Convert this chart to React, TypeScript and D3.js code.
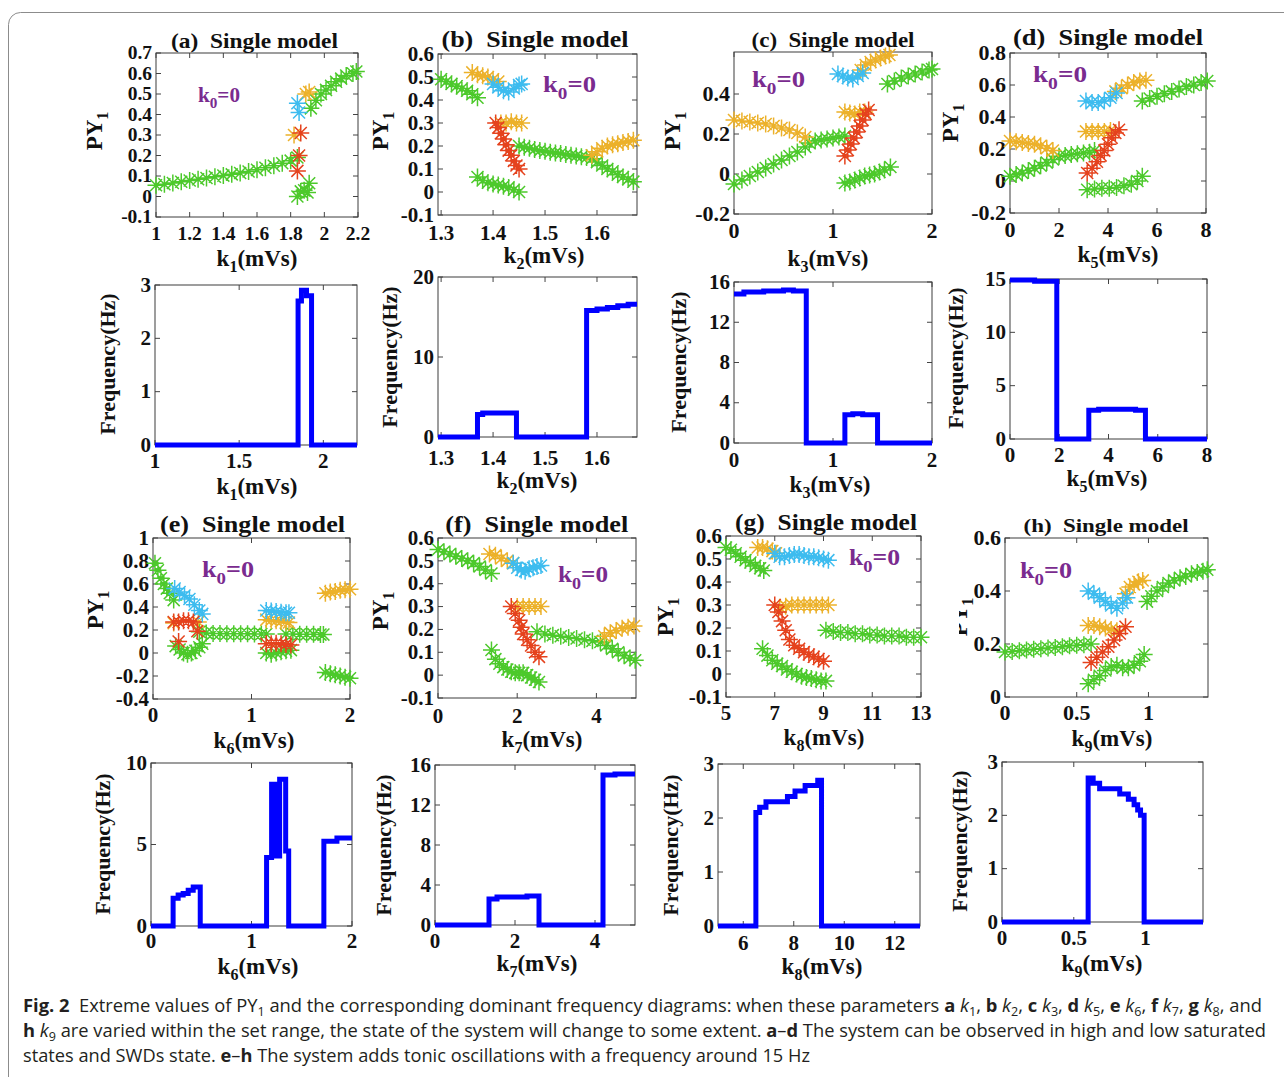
import React from "react";
import * as d3 from "d3";

// ---------- palette ----------
const COLORS: Record<string, string> = { g: "#4cc92b", o: "#ecb12a", c: "#3dbcef", r: "#e5421d" };
const LINE_BLUE = "#0000ff";
const K0_PURPLE = "#7a2b8f";
const SERIF = "'Liberation Serif','Times New Roman',serif";
const SANS = "'Open Sans','Noto Sans',sans-serif";

type Branch = { c: "g" | "o" | "c" | "r"; p: [number, number][] };

// ---------- extrema of PY1 (one marker per swept parameter value) ----------
const branchesA: Branch[] = [
  { c: "g", p: [[1.0, 0.055], [1.05, 0.06], [1.1, 0.066], [1.15, 0.072], [1.2, 0.078], [1.25, 0.084], [1.3, 0.09], [1.35, 0.096], [1.4, 0.102], [1.45, 0.108], [1.5, 0.115], [1.55, 0.122], [1.6, 0.13], [1.65, 0.14], [1.7, 0.15], [1.75, 0.162], [1.8, 0.175], [1.84, 0.19]] },
  { c: "g", p: [[1.92, 0.43], [1.95, 0.47], [1.98, 0.5], [2.01, 0.52], [2.04, 0.54], [2.07, 0.56], [2.1, 0.575], [2.13, 0.59], [2.17, 0.6], [2.19, 0.61]] },
  { c: "g", p: [[1.84, 0.0], [1.86, 0.025], [1.88, 0.03], [1.9, 0.02], [1.91, 0.065]] },
  { c: "o", p: [[1.82, 0.3], [1.89, 0.5], [1.91, 0.51]] },
  { c: "c", p: [[1.84, 0.455], [1.85, 0.41]] },
  { c: "r", p: [[1.84, 0.125], [1.85, 0.2], [1.86, 0.31]] },
];

const branchesB: Branch[] = [
  { c: "g", p: [[1.3, 0.49], [1.31, 0.48], [1.32, 0.47], [1.33, 0.46], [1.34, 0.45], [1.35, 0.44], [1.36, 0.425], [1.37, 0.41]] },
  { c: "g", p: [[1.37, 0.065], [1.38, 0.05], [1.39, 0.04], [1.4, 0.035], [1.41, 0.03], [1.42, 0.025], [1.43, 0.02], [1.44, 0.01], [1.45, 0.0]] },
  { c: "g", p: [[1.45, 0.2], [1.46, 0.195], [1.47, 0.19], [1.48, 0.185], [1.49, 0.18], [1.5, 0.177], [1.51, 0.173], [1.52, 0.17], [1.53, 0.167], [1.54, 0.163], [1.55, 0.16], [1.56, 0.157], [1.57, 0.153], [1.58, 0.15], [1.59, 0.145], [1.6, 0.13], [1.61, 0.115], [1.62, 0.1], [1.63, 0.09], [1.64, 0.075], [1.65, 0.065], [1.66, 0.055], [1.67, 0.045]] },
  { c: "o", p: [[1.36, 0.52], [1.37, 0.51], [1.38, 0.505], [1.39, 0.5], [1.4, 0.49], [1.41, 0.48]] },
  { c: "o", p: [[1.415, 0.3], [1.425, 0.3], [1.435, 0.305], [1.445, 0.3], [1.455, 0.3]] },
  { c: "o", p: [[1.59, 0.16], [1.6, 0.175], [1.61, 0.19], [1.62, 0.2], [1.63, 0.205], [1.64, 0.21], [1.65, 0.215], [1.66, 0.22], [1.67, 0.225]] },
  { c: "c", p: [[1.4, 0.47], [1.41, 0.455], [1.42, 0.44], [1.43, 0.435], [1.44, 0.45], [1.45, 0.465], [1.455, 0.47]] },
  { c: "r", p: [[1.405, 0.3], [1.41, 0.28], [1.415, 0.255], [1.42, 0.23], [1.425, 0.205], [1.43, 0.18], [1.435, 0.16], [1.44, 0.135], [1.445, 0.115], [1.45, 0.1]] },
];

const branchesC: Branch[] = [
  { c: "o", p: [[0, 0.27], [0.08, 0.265], [0.16, 0.26], [0.24, 0.255], [0.32, 0.25], [0.4, 0.24], [0.48, 0.23], [0.56, 0.22], [0.64, 0.205], [0.72, 0.185]] },
  { c: "g", p: [[0, -0.05], [0.08, -0.03], [0.16, -0.01], [0.24, 0.01], [0.32, 0.03], [0.4, 0.05], [0.48, 0.07], [0.56, 0.09], [0.64, 0.11], [0.72, 0.135], [0.76, 0.155], [0.82, 0.165], [0.88, 0.17], [0.94, 0.175], [1.0, 0.18], [1.06, 0.185], [1.12, 0.19]] },
  { c: "g", p: [[1.55, 0.45], [1.62, 0.465], [1.69, 0.48], [1.76, 0.49], [1.83, 0.5], [1.9, 0.51], [1.97, 0.52], [2.0, 0.525]] },
  { c: "g", p: [[1.12, -0.045], [1.17, -0.04], [1.22, -0.03], [1.27, -0.02], [1.32, -0.01], [1.37, -0.005], [1.42, 0.0], [1.47, 0.01], [1.52, 0.02], [1.58, 0.035]] },
  { c: "o", p: [[1.28, 0.52], [1.33, 0.545], [1.38, 0.56], [1.43, 0.57], [1.48, 0.58], [1.53, 0.59], [1.57, 0.595]] },
  { c: "o", p: [[1.12, 0.31], [1.17, 0.305], [1.22, 0.3], [1.27, 0.31], [1.32, 0.31]] },
  { c: "c", p: [[1.05, 0.5], [1.1, 0.49], [1.15, 0.48], [1.2, 0.475], [1.25, 0.49], [1.3, 0.505]] },
  { c: "r", p: [[1.12, 0.09], [1.15, 0.12], [1.18, 0.15], [1.21, 0.18], [1.24, 0.21], [1.27, 0.24], [1.3, 0.27], [1.33, 0.3], [1.36, 0.32]] },
];

const branchesD: Branch[] = [
  { c: "o", p: [[0, 0.25], [0.25, 0.245], [0.5, 0.24], [0.75, 0.235], [1.0, 0.23], [1.25, 0.22], [1.5, 0.205], [1.75, 0.19]] },
  { c: "g", p: [[0, 0.03], [0.25, 0.04], [0.5, 0.05], [0.75, 0.065], [1.0, 0.08], [1.25, 0.095], [1.5, 0.115], [1.75, 0.135], [2.0, 0.155], [2.25, 0.16], [2.5, 0.165], [2.75, 0.17], [3.0, 0.175], [3.25, 0.18], [3.45, 0.19]] },
  { c: "g", p: [[5.4, 0.5], [5.7, 0.515], [6.0, 0.53], [6.3, 0.545], [6.6, 0.56], [6.9, 0.575], [7.2, 0.59], [7.5, 0.6], [7.8, 0.615], [8.05, 0.625]] },
  { c: "g", p: [[3.15, -0.055], [3.45, -0.05], [3.75, -0.045], [4.05, -0.045], [4.35, -0.04], [4.65, -0.03], [4.95, -0.02], [5.2, 0.0], [5.4, 0.03]] },
  { c: "c", p: [[3.1, 0.5], [3.35, 0.49], [3.6, 0.49], [3.85, 0.5], [4.1, 0.52], [4.35, 0.55]] },
  { c: "o", p: [[4.3, 0.56], [4.55, 0.58], [4.8, 0.6], [5.05, 0.615], [5.3, 0.625], [5.55, 0.63]] },
  { c: "o", p: [[3.1, 0.31], [3.35, 0.31], [3.6, 0.31], [3.85, 0.31], [4.1, 0.315]] },
  { c: "r", p: [[3.15, 0.05], [3.35, 0.08], [3.55, 0.12], [3.7, 0.16], [3.85, 0.19], [4.0, 0.23], [4.15, 0.27], [4.3, 0.3], [4.45, 0.32]] },
];

const branchesE: Branch[] = [
  { c: "g", p: [[0.02, 0.78], [0.05, 0.72], [0.08, 0.65], [0.11, 0.6], [0.14, 0.56], [0.17, 0.52], [0.21, 0.46]] },
  { c: "g", p: [[0.23, 0.06], [0.27, 0.03], [0.31, 0.0], [0.35, -0.01], [0.39, 0.0], [0.43, 0.02], [0.47, 0.05], [0.5, 0.08]] },
  { c: "g", p: [[0.47, 0.185], [0.54, 0.175], [0.61, 0.17], [0.68, 0.17], [0.75, 0.168], [0.82, 0.168], [0.89, 0.167], [0.96, 0.167], [1.03, 0.166], [1.1, 0.165], [1.15, 0.165]] },
  { c: "g", p: [[1.15, 0.0], [1.2, -0.01], [1.25, 0.0], [1.3, 0.01], [1.35, 0.02], [1.4, 0.025]] },
  { c: "g", p: [[1.35, 0.165], [1.42, 0.165], [1.49, 0.163], [1.56, 0.163], [1.63, 0.162], [1.7, 0.16], [1.73, 0.16]] },
  { c: "g", p: [[1.75, -0.17], [1.8, -0.18], [1.85, -0.19], [1.9, -0.2], [1.95, -0.21], [2.0, -0.22]] },
  { c: "o", p: [[0.21, 0.26], [0.46, 0.27]] },
  { c: "o", p: [[1.15, 0.29], [1.2, 0.285], [1.25, 0.28], [1.3, 0.275], [1.35, 0.27], [1.38, 0.265]] },
  { c: "o", p: [[1.75, 0.52], [1.8, 0.53], [1.85, 0.535], [1.9, 0.545], [1.95, 0.55], [2.0, 0.555]] },
  { c: "c", p: [[0.22, 0.56], [0.27, 0.53], [0.32, 0.5], [0.37, 0.47], [0.42, 0.42], [0.47, 0.37], [0.5, 0.34]] },
  { c: "c", p: [[1.15, 0.37], [1.2, 0.365], [1.25, 0.36], [1.3, 0.355], [1.35, 0.35], [1.38, 0.35]] },
  { c: "r", p: [[0.21, 0.27], [0.26, 0.27], [0.31, 0.28], [0.36, 0.28], [0.41, 0.27]] },
  { c: "r", p: [[0.26, 0.1], [0.45, 0.19]] },
  { c: "r", p: [[1.15, 0.08], [1.2, 0.08], [1.25, 0.085], [1.3, 0.08], [1.35, 0.075], [1.4, 0.07]] },
];

const branchesF: Branch[] = [
  { c: "g", p: [[0, 0.55], [0.15, 0.54], [0.3, 0.53], [0.45, 0.52], [0.6, 0.51], [0.75, 0.5], [0.9, 0.49], [1.05, 0.475], [1.2, 0.46], [1.35, 0.445]] },
  { c: "g", p: [[1.35, 0.11], [1.45, 0.07], [1.55, 0.05], [1.65, 0.035], [1.75, 0.025], [1.85, 0.015], [1.95, 0.01], [2.05, 0.01], [2.15, 0.01], [2.25, 0.0], [2.35, -0.01], [2.45, -0.02], [2.55, -0.03]] },
  { c: "g", p: [[2.5, 0.19], [2.7, 0.18], [2.9, 0.175], [3.1, 0.17], [3.3, 0.165], [3.5, 0.16], [3.7, 0.155], [3.9, 0.15], [4.1, 0.145], [4.25, 0.13], [4.4, 0.115], [4.55, 0.1], [4.7, 0.085], [4.85, 0.075], [4.98, 0.065]] },
  { c: "o", p: [[1.3, 0.53], [1.45, 0.525], [1.6, 0.51], [1.75, 0.5], [1.9, 0.49]] },
  { c: "o", p: [[2.0, 0.3], [2.15, 0.3], [2.3, 0.3], [2.45, 0.3], [2.6, 0.3]] },
  { c: "o", p: [[4.2, 0.17], [4.35, 0.185], [4.5, 0.195], [4.65, 0.205], [4.8, 0.21], [4.95, 0.215]] },
  { c: "c", p: [[1.9, 0.49], [2.0, 0.47], [2.1, 0.46], [2.2, 0.455], [2.3, 0.465], [2.4, 0.47], [2.5, 0.475], [2.6, 0.48]] },
  { c: "r", p: [[1.85, 0.3], [1.95, 0.27], [2.05, 0.24], [2.1, 0.21], [2.15, 0.18], [2.25, 0.155], [2.35, 0.13], [2.45, 0.1], [2.55, 0.08]] },
];

const branchesG: Branch[] = [
  { c: "g", p: [[5.0, 0.55], [5.2, 0.54], [5.4, 0.525], [5.6, 0.51], [5.8, 0.495], [6.0, 0.485], [6.2, 0.47], [6.4, 0.46], [6.55, 0.45]] },
  { c: "g", p: [[6.5, 0.11], [6.7, 0.08], [6.9, 0.06], [7.1, 0.045], [7.3, 0.035], [7.5, 0.02], [7.7, 0.01], [7.9, 0.0], [8.1, -0.01], [8.3, -0.015], [8.5, -0.02], [8.7, -0.025], [8.9, -0.03], [9.1, -0.03]] },
  { c: "g", p: [[9.1, 0.19], [9.4, 0.185], [9.7, 0.18], [10.0, 0.18], [10.3, 0.175], [10.6, 0.175], [10.9, 0.17], [11.2, 0.17], [11.5, 0.165], [11.8, 0.165], [12.1, 0.165], [12.4, 0.16], [12.7, 0.16], [13.0, 0.16]] },
  { c: "o", p: [[6.3, 0.55], [6.5, 0.55], [6.7, 0.545], [6.9, 0.535], [7.05, 0.525]] },
  { c: "o", p: [[7.2, 0.29], [7.45, 0.295], [7.7, 0.3], [7.95, 0.3], [8.2, 0.3], [8.45, 0.3], [8.7, 0.3], [8.95, 0.3], [9.2, 0.3]] },
  { c: "c", p: [[7.0, 0.525], [7.2, 0.51], [7.4, 0.51], [7.6, 0.515], [7.8, 0.52], [8.0, 0.52], [8.2, 0.515], [8.4, 0.51], [8.6, 0.51], [8.8, 0.505], [9.0, 0.5], [9.2, 0.495]] },
  { c: "r", p: [[7.0, 0.3], [7.15, 0.27], [7.3, 0.23], [7.45, 0.19], [7.6, 0.15], [7.8, 0.125], [8.0, 0.11], [8.2, 0.095], [8.4, 0.085], [8.6, 0.075], [8.8, 0.065], [9.0, 0.055]] },
];

const branchesH: Branch[] = [
  { c: "g", p: [[0.0, 0.17], [0.05, 0.172], [0.1, 0.175], [0.15, 0.177], [0.2, 0.18], [0.25, 0.182], [0.3, 0.185], [0.35, 0.187], [0.4, 0.19], [0.45, 0.193], [0.5, 0.195], [0.55, 0.197], [0.6, 0.2]] },
  { c: "g", p: [[0.99, 0.36], [1.02, 0.38], [1.06, 0.4], [1.1, 0.415], [1.14, 0.43], [1.18, 0.44], [1.22, 0.45], [1.26, 0.455], [1.3, 0.465], [1.34, 0.47], [1.38, 0.475], [1.41, 0.48]] },
  { c: "g", p: [[0.58, 0.05], [0.62, 0.065], [0.66, 0.08], [0.7, 0.1], [0.74, 0.115], [0.78, 0.12], [0.82, 0.11], [0.86, 0.11], [0.9, 0.12], [0.94, 0.135], [0.97, 0.16]] },
  { c: "c", p: [[0.58, 0.4], [0.62, 0.39], [0.66, 0.375], [0.7, 0.36], [0.74, 0.345], [0.78, 0.335], [0.82, 0.355], [0.85, 0.375]] },
  { c: "o", p: [[0.84, 0.39], [0.87, 0.415], [0.9, 0.425], [0.93, 0.435], [0.96, 0.44]] },
  { c: "o", p: [[0.58, 0.27], [0.62, 0.27], [0.66, 0.265], [0.7, 0.26], [0.74, 0.255], [0.78, 0.25]] },
  { c: "r", p: [[0.6, 0.13], [0.64, 0.15], [0.68, 0.17], [0.72, 0.19], [0.76, 0.215], [0.8, 0.24], [0.84, 0.265]] },
];

// ---------- dominant frequency (Hz), step-wise over the swept parameter ----------
const freqAx = [1.0, 1.85, 1.87, 1.9, 1.93, 2.2];
const freqAy = [0, 2.7, 2.9, 2.8, 0, 0];
const freqBx = [1.294, 1.37, 1.38, 1.445, 1.58, 1.6, 1.62, 1.64, 1.66, 1.677];
const freqBy = [0, 2.8, 3.0, 0, 15.8, 16.0, 16.2, 16.4, 16.6, 16.6];
const freqCx = [0, 0.1, 0.3, 0.5, 0.6, 0.73, 1.12, 1.2, 1.3, 1.45, 2.0];
const freqCy = [14.8, 15.0, 15.1, 15.2, 15.1, 0, 2.8, 2.9, 2.8, 0, 0];
const freqDx = [0, 1.0, 1.9, 3.2, 3.6, 4.4, 5.1, 5.5, 8.0];
const freqDy = [14.9, 14.8, 0, 2.7, 2.8, 2.8, 2.7, 0, 0];
const freqEx = [0, 0.22, 0.27, 0.32, 0.37, 0.42, 0.49, 1.15, 1.2, 1.24, 1.28, 1.34, 1.37, 1.72, 1.85, 2.0];
const freqEy = [0, 1.7, 1.9, 2.0, 2.2, 2.4, 0, 4.2, 8.7, 4.3, 9.0, 4.6, 0, 5.2, 5.4, 5.4];
const freqFx = [0, 1.35, 1.55, 1.75, 2.3, 2.6, 4.2, 4.5, 5.0];
const freqFy = [0, 2.6, 2.8, 2.8, 2.9, 0, 15.0, 15.1, 15.1];
const freqGx = [5, 6.5, 6.65, 6.9, 7.75, 8.05, 8.45, 8.95, 9.1, 13];
const freqGy = [0, 2.1, 2.2, 2.3, 2.4, 2.5, 2.6, 2.7, 0, 0];
const freqHx = [0, 0.6, 0.635, 0.68, 0.82, 0.88, 0.92, 0.945, 0.965, 0.99, 1.4];
const freqHy = [0, 2.7, 2.6, 2.5, 2.4, 2.3, 2.2, 2.1, 2.0, 0, 0];

// ---------- tick values ----------
const ticksAx = [1, 1.2, 1.4, 1.6, 1.8, 2, 2.2];
const ticksAy = [-0.1, 0, 0.1, 0.2, 0.3, 0.4, 0.5, 0.6, 0.7];
const ticksBx = [1.3, 1.4, 1.5, 1.6];
const ticksBy = [-0.1, 0, 0.1, 0.2, 0.3, 0.4, 0.5, 0.6];
const ticksCx = [0, 1, 2];
const ticksCy = [-0.2, 0, 0.2, 0.4];
const ticksDx = [0, 2, 4, 6, 8];
const ticksDy = [-0.2, 0, 0.2, 0.4, 0.6, 0.8];
const ticksEx = [0, 1, 2];
const ticksEy = [-0.4, -0.2, 0, 0.2, 0.4, 0.6, 0.8, 1];
const ticksFx = [0, 2, 4];
const ticksFy = [-0.1, 0, 0.1, 0.2, 0.3, 0.4, 0.5, 0.6];
const ticksGx = [5, 7, 9, 11, 13];
const ticksGy = [-0.1, 0, 0.1, 0.2, 0.3, 0.4, 0.5, 0.6];
const ticksHx = [0, 0.5, 1];
const ticksHy = [0, 0.2, 0.4, 0.6];

const fTicksAx = [1, 1.5, 2];
const fTicksAy = [0, 1, 2, 3];
const fTicksBx = [1.3, 1.4, 1.5, 1.6];
const fTicksBy = [0, 10, 20];
const fTicksCx = [0, 1, 2];
const fTicksCy = [0, 4, 8, 12, 16];
const fTicksDx = [0, 2, 4, 6, 8];
const fTicksDy = [0, 5, 10, 15];
const fTicksEx = [0, 1, 2];
const fTicksEy = [0, 5, 10];
const fTicksFx = [0, 2, 4];
const fTicksFy = [0, 4, 8, 12, 16];
const fTicksGx = [6, 8, 10, 12];
const fTicksGy = [0, 1, 2, 3];
const fTicksHx = [0, 0.5, 1];
const fTicksHy = [0, 1, 2, 3];

const panelLetters = ["a", "b", "c", "d", "e", "f", "g", "h"];
const paramSubs = ["1", "2", "3", "5", "6", "7", "8", "9"];

// ---------- layout ----------
type Box = { L: number; T: number; R: number; B: number };
const bifLayout = [
  { box: { L: 156, T: 53, R: 358, B: 217 }, xd: [1, 2.2], yd: [-0.1, 0.7], tickY: 240, tickFs: 19.5, xlab: [257, 266], ylab: [102, 131], title: [254.5, 48, 167, 21], k0: [198, 102, 42, 20] },
  { box: { L: 438, T: 54, R: 637, B: 215 }, xd: [1.294, 1.677], yd: [-0.1, 0.6], tickY: 240, tickFs: 21, xlab: [544, 263], ylab: [388, 131], title: [535, 47, 187, 23], k0: [543, 92, 53, 24] },
  { box: { L: 734, T: 52, R: 932, B: 214 }, xd: [0, 2], yd: [-0.2, 0.61], tickY: 238, tickFs: 22, xlab: [828, 266], ylab: [680, 131], title: [833, 47, 163, 21], k0: [752, 87, 53, 24] },
  { box: { L: 1010, T: 53, R: 1206, B: 213 }, xd: [0, 8], yd: [-0.2, 0.8], tickY: 237, tickFs: 22, xlab: [1118, 262], ylab: [958, 123], title: [1108, 45, 190, 23], k0: [1033, 82, 54, 24] },
  { box: { L: 153, T: 538, R: 350, B: 699 }, xd: [0, 2], yd: [-0.4, 1], tickY: 722, tickFs: 21, xlab: [254, 748], ylab: [103, 610], title: [252.5, 532, 185, 23], k0: [202, 577, 52, 24] },
  { box: { L: 438, T: 538, R: 636, B: 698 }, xd: [0, 5], yd: [-0.1, 0.6], tickY: 723, tickFs: 21, xlab: [542, 747], ylab: [388, 611], title: [536.7, 532, 183, 23], k0: [558, 582, 50, 24] },
  { box: { L: 726, T: 536, R: 921, B: 697 }, xd: [5, 13], yd: [-0.1, 0.6], tickY: 720, tickFs: 21, xlab: [824, 745], ylab: [673, 617], title: [826, 530, 182, 23], k0: [849, 565, 51, 24] },
  { box: { L: 1005, T: 538, R: 1208, B: 697 }, xd: [0, 1.415], yd: [0, 0.6], tickY: 720, tickFs: 22, xlab: [1112, 746], ylab: [967, 617], title: [1106, 532, 165, 19], k0: [1020, 578, 52, 24] },
];
const bifData = [branchesA, branchesB, branchesC, branchesD, branchesE, branchesF, branchesG, branchesH];
const bifTicks = [
  [ticksAx, ticksAy], [ticksBx, ticksBy], [ticksCx, ticksCy], [ticksDx, ticksDy],
  [ticksEx, ticksEy], [ticksFx, ticksFy], [ticksGx, ticksGy], [ticksHx, ticksHy],
];

const freqLayout = [
  { box: { L: 155, T: 285, R: 357, B: 445 }, xd: [1, 2.2], yd: [0, 3], tickY: 468, xlab: [257, 494], ylab: [115, 364] },
  { box: { L: 438, T: 277, R: 637, B: 437 }, xd: [1.294, 1.677], yd: [0, 20], tickY: 465, xlab: [537, 488], ylab: [397, 357] },
  { box: { L: 734, T: 282, R: 932, B: 443 }, xd: [0, 2], yd: [0, 16], tickY: 467, xlab: [830, 492], ylab: [686, 362] },
  { box: { L: 1010, T: 279, R: 1207, B: 439 }, xd: [0, 8], yd: [0, 15], tickY: 462, xlab: [1107, 486], ylab: [963, 358] },
  { box: { L: 151, T: 763, R: 352, B: 926 }, xd: [0, 2], yd: [0, 10], tickY: 948, xlab: [258, 974], ylab: [110, 844] },
  { box: { L: 435, T: 765, R: 635, B: 925 }, xd: [0, 5], yd: [0, 16], tickY: 948, xlab: [537, 971], ylab: [391, 845] },
  { box: { L: 718, T: 764, R: 920, B: 926 }, xd: [5, 13], yd: [0, 3], tickY: 950, xlab: [822, 974], ylab: [678, 845] },
  { box: { L: 1002, T: 762, R: 1203, B: 922 }, xd: [0, 1.4], yd: [0, 3], tickY: 945, xlab: [1102, 971], ylab: [967, 841] },
];
const freqData = [
  [freqAx, freqAy], [freqBx, freqBy], [freqCx, freqCy], [freqDx, freqDy],
  [freqEx, freqEy], [freqFx, freqFy], [freqGx, freqGy], [freqHx, freqHy],
];
const freqTicks = [
  [fTicksAx, fTicksAy], [fTicksBx, fTicksBy], [fTicksCx, fTicksCy], [fTicksDx, fTicksDy],
  [fTicksEx, fTicksEy], [fTicksFx, fTicksFy], [fTicksGx, fTicksGy], [fTicksHx, fTicksHy],
];

const LABEL_FS = 23;
const STAR_R = 8.5;

// Axes frame with inward ticks on all four sides, MATLAB "box on" style
function Frame({ box, x, y, xt, yt, tickY, fs = 22 }: { box: Box; x: d3.ScaleLinear<number, number>; y: d3.ScaleLinear<number, number>; xt: number[]; yt: number[]; tickY: number; fs?: number }) {
  const { L, T, R, B } = box;
  const tl = 5;
  return (
    <g fontFamily={SERIF} fontWeight="bold" fontSize={fs} fill="#111">
      {xt.map((v) => (
        <g key={"x" + v}>
          <line x1={x(v)} x2={x(v)} y1={B} y2={B - tl} stroke="#444" />
          <line x1={x(v)} x2={x(v)} y1={T} y2={T + tl} stroke="#444" />
          <text x={x(v)} y={tickY} textAnchor="middle">{String(v)}</text>
        </g>
      ))}
      {yt.map((v) => (
        <g key={"y" + v}>
          <line x1={L} x2={L + tl} y1={y(v)} y2={y(v)} stroke="#444" />
          <line x1={R} x2={R - tl} y1={y(v)} y2={y(v)} stroke="#444" />
          <text x={L - 4} y={y(v) + fs * 0.32} textAnchor="end">{String(v)}</text>
        </g>
      ))}
      <rect x={L} y={T} width={R - L} height={B - T} fill="none" stroke="#3c3c3c" strokeWidth={1} />
    </g>
  );
}

function KLabel({ cx, y, sub }: { cx: number; y: number; sub: string }) {
  return (
    <text x={cx} y={y} textAnchor="middle" fontFamily={SERIF} fontWeight="bold" fontSize={LABEL_FS} fill="#111">
      k<tspan dy={6} fontSize={16}>{sub}</tspan><tspan dy={-6}>(mVs)</tspan>
    </text>
  );
}

// eight-spoke asterisk markers for one branch
function starPath(pts: [number, number][], r: number) {
  const d = r * 0.7071;
  return pts
    .map(([px, py]) =>
      `M${px - r},${py}h${2 * r}M${px},${py - r}v${2 * r}M${px - d},${py - d}l${2 * d},${2 * d}M${px - d},${py + d}l${2 * d},${-2 * d}`
    )
    .join("");
}

function BifPanel({ i }: { i: number }) {
  const cfg = bifLayout[i];
  const { box } = cfg;
  const x = d3.scaleLinear().domain(cfg.xd).range([box.L, box.R]);
  const y = d3.scaleLinear().domain(cfg.yd).range([box.B, box.T]);
  const [xt, yt] = bifTicks[i];
  const order = ["g", "o", "c", "r"];
  const branches = [...bifData[i]].sort((a, b) => order.indexOf(a.c) - order.indexOf(b.c));
  const [tx, ty, tw, tfs] = cfg.title;
  const [kx, ky, kw, kfs] = cfg.k0;
  const clipId = `ylab-clip-${i}`;
  const clipped = i === 7;
  return (
    <g>
      <Frame box={box} x={x} y={y} xt={xt} yt={yt} tickY={cfg.tickY} fs={cfg.tickFs} />
      {branches.map((b, j) => (
        <path key={j} d={starPath(b.p.map(([a, v]) => [x(a), y(v)]), STAR_R)} stroke={COLORS[b.c]} strokeWidth={1.5} fill="none" />
      ))}
      <text x={tx} y={ty} textAnchor="middle" fontFamily={SERIF} fontWeight="bold" fontSize={tfs} textLength={tw} lengthAdjust="spacingAndGlyphs" fill="#111">
        {`(${panelLetters[i]})\u00A0\u00A0Single model`}
      </text>
      <text x={kx} y={ky} fontFamily={SERIF} fontWeight="bold" fontSize={kfs} fill={K0_PURPLE} textLength={kw} lengthAdjust="spacingAndGlyphs">
        k<tspan dy={kfs * 0.28} fontSize={kfs * 0.72}>0</tspan><tspan dy={-kfs * 0.28}>=0</tspan>
      </text>
      <KLabel cx={cfg.xlab[0]} y={cfg.xlab[1]} sub={paramSubs[i]} />
      {clipped && (
        <clipPath id={clipId}>
          <rect x={959} y={560} width={40} height={120} />
        </clipPath>
      )}
      <g clipPath={clipped ? `url(#${clipId})` : undefined}>
        <text transform={`translate(${cfg.ylab[0]},${cfg.ylab[1]}) rotate(-90)`} textAnchor="middle" fontFamily={SERIF} fontWeight="bold" fontSize={LABEL_FS} fill="#111">
          PY<tspan dy={6} fontSize={16}>1</tspan>
        </text>
      </g>
    </g>
  );
}

function FreqPanel({ i }: { i: number }) {
  const cfg = freqLayout[i];
  const { box } = cfg;
  const x = d3.scaleLinear().domain(cfg.xd).range([box.L, box.R]);
  const y = d3.scaleLinear().domain(cfg.yd).range([box.B, box.T]);
  const [xt, yt] = freqTicks[i];
  const [xs, ys] = freqData[i];
  const pts: [number, number][] = xs.map((v, k) => [v, ys[k]]);
  const line = d3.line<[number, number]>().x((d) => x(d[0])).y((d) => y(d[1])).curve(d3.curveStepAfter);
  return (
    <g>
      <Frame box={box} x={x} y={y} xt={xt} yt={yt} tickY={cfg.tickY} fs={21} />
      <path d={line(pts) || ""} fill="none" stroke={LINE_BLUE} strokeWidth={5} strokeLinejoin="miter" />
      <KLabel cx={cfg.xlab[0]} y={cfg.xlab[1]} sub={paramSubs[i]} />
      <text transform={`translate(${cfg.ylab[0]},${cfg.ylab[1]}) rotate(-90)`} textAnchor="middle" fontFamily={SERIF} fontWeight="bold" fontSize={22} fill="#111">
        Frequency(Hz)
      </text>
    </g>
  );
}

// ---------- caption ----------
type Seg = { t: string; b?: boolean; i?: boolean; sub?: boolean };
const captionLines: { segs: Seg[]; y: number; w: number }[] = [
  {
    y: 1012, w: 1239, segs: [
      { t: "Fig. 2", b: true }, { t: "\u00A0 Extreme values of PY" }, { t: "1", sub: true },
      { t: " and the corresponding dominant frequency diagrams: when these parameters " },
      { t: "a", b: true }, { t: " " }, { t: "k", i: true }, { t: "1", sub: true }, { t: ", " },
      { t: "b", b: true }, { t: " " }, { t: "k", i: true }, { t: "2", sub: true }, { t: ", " },
      { t: "c", b: true }, { t: " " }, { t: "k", i: true }, { t: "3", sub: true }, { t: ", " },
      { t: "d", b: true }, { t: " " }, { t: "k", i: true }, { t: "5", sub: true }, { t: ", " },
      { t: "e", b: true }, { t: " " }, { t: "k", i: true }, { t: "6", sub: true }, { t: ", " },
      { t: "f", b: true }, { t: " " }, { t: "k", i: true }, { t: "7", sub: true }, { t: ", " },
      { t: "g", b: true }, { t: " " }, { t: "k", i: true }, { t: "8", sub: true }, { t: ", and" },
    ],
  },
  {
    y: 1037, w: 1243, segs: [
      { t: "h", b: true }, { t: " " }, { t: "k", i: true }, { t: "9", sub: true },
      { t: " are varied within the set range, the state of the system will change to some extent. " },
      { t: "a", b: true }, { t: "\u2013" }, { t: "d", b: true },
      { t: " The system can be observed in high and low saturated" },
    ],
  },
  {
    y: 1062, w: 787, segs: [
      { t: "states and SWDs state. " }, { t: "e", b: true }, { t: "\u2013" }, { t: "h", b: true },
      { t: " The system adds tonic oscillations with a frequency around 15 Hz" },
    ],
  },
];

function CaptionLine({ segs, y, w }: { segs: Seg[]; y: number; w: number }) {
  let shifted = false;
  return (
    <text x={23} y={y} fontFamily={SANS} fontSize={17.5} fill="#231f20" textLength={w} lengthAdjust="spacingAndGlyphs" style={{ whiteSpace: "pre" }}>
      {segs.map((s, k) => {
        let dy = 0;
        if (s.sub && !shifted) { dy = 4; shifted = true; }
        else if (!s.sub && shifted) { dy = -4; shifted = false; }
        return (
          <tspan key={k} dy={dy || undefined} fontWeight={s.b ? "bold" : undefined} fontStyle={s.i ? "italic" : undefined} fontSize={s.sub ? 12 : undefined}>
            {s.t}
          </tspan>
        );
      })}
    </text>
  );
}

export default function App() {
  return (
    <div style={{ position: "absolute", left: 0, top: 0 }}>
      <svg width={1284} height={1077} viewBox="0 0 1284 1077" style={{ display: "block", background: "#fff" }}>
        <rect x={8.5} y={12.5} width={1320} height={1120} rx={12} fill="none" stroke="#8c8c8c" strokeWidth={1} />
        {bifLayout.map((_, i) => <BifPanel key={"b" + i} i={i} />)}
        {freqLayout.map((_, i) => <FreqPanel key={"f" + i} i={i} />)}
        {captionLines.map((l, k) => <CaptionLine key={k} {...l} />)}
      </svg>
    </div>
  );
}
